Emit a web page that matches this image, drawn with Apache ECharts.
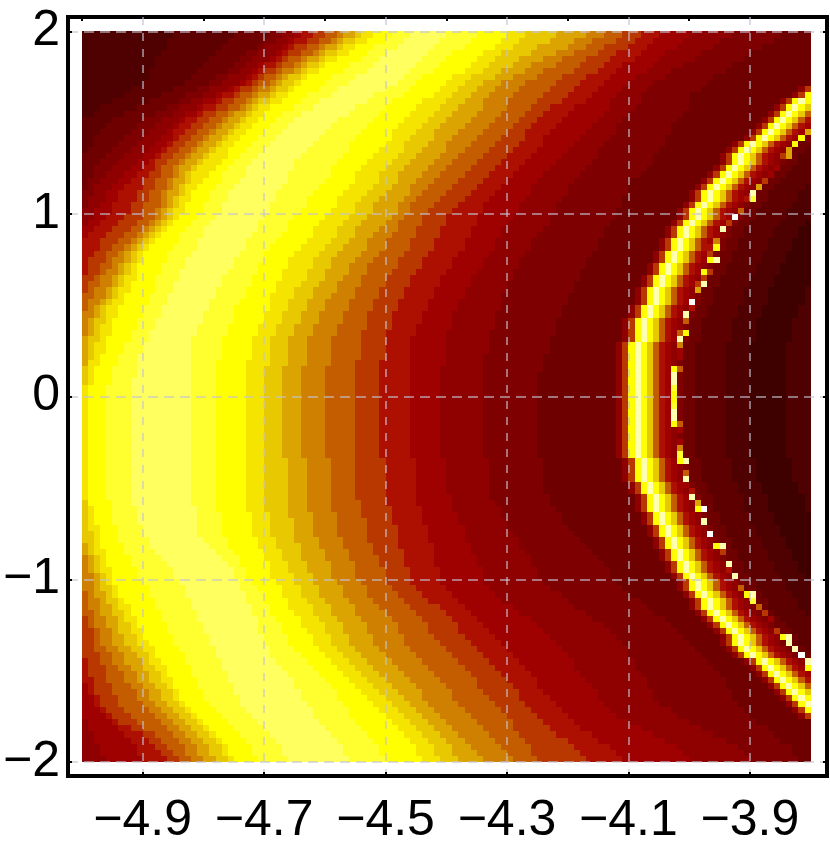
<!DOCTYPE html>
<html><head><meta charset="utf-8"><style>html,body{margin:0;padding:0;background:#fff}#c{width:830px;height:849px}</style>
<script src="https://cdn.jsdelivr.net/npm/echarts@6/dist/echarts.min.js"></script></head>
<body><div id="c"></div><script>
const xTicks=[-4.9,-4.7,-4.5,-4.3,-4.1,-3.9];
const xTicksTop=[-5,-4.8,-4.6,-4.4,-4.2,-4];
const yTicks=[-2,-1,0,1,2];
const palette=['#3f0000','#4f0000','#5f0000','#6f0000','#7f0000','#8f0000','#9f0000','#ad1000','#b83800','#c45c00','#d08000','#dca400','#e8c800','#f4e400','#ffff00','#ffff30','#ffff60','#ffffb0','#ffffff'];
// per row (top to bottom): first column of each colour level while rising, levels 2..16
const riseLevels=[2,3,4,5,6,7,8,9,10,11,12,13,14,15,16];
const rise=[
[15,25,31,33,35,36,38,40,42,43,45,46,48,51,54],[14,24,30,32,34,35,37,39,41,42,43,45,47,50,53],[14,23,29,30,33,34,35,37,39,40,42,43,45,48,52],[13,22,27,29,32,33,34,36,38,39,40,42,44,47,50],[12,21,26,28,31,32,33,34,36,37,39,40,42,46,49],
[12,20,25,27,29,30,32,33,35,36,37,39,40,44,48],[11,19,24,26,28,29,30,32,33,35,36,37,39,43,47],[11,18,22,24,27,28,29,30,32,33,34,36,37,41,45],[10,17,21,23,26,27,28,29,31,32,33,35,36,40,44],[8,15,19,21,24,25,26,28,29,31,32,34,35,39,42],
[7,13,17,20,22,23,25,26,28,29,31,32,34,37,41],[5,11,16,18,20,22,23,25,27,28,29,31,33,36,39],[3,9,14,16,19,20,22,24,26,27,28,29,31,35,38],[2,7,12,15,17,19,20,22,24,25,27,28,30,33,36],[0,5,10,13,16,17,19,21,23,24,26,27,29,32,35],
[0,4,9,12,15,16,18,20,22,23,25,26,28,31,34],[0,3,8,11,14,15,17,19,21,22,24,25,27,30,33],[0,2,7,10,13,15,16,18,20,21,23,24,26,29,32],[0,2,6,9,12,14,15,17,19,20,22,23,25,28,31],[0,1,5,8,11,13,14,16,18,19,21,22,24,27,30],
[0,0,4,7,10,12,13,15,17,18,20,21,24,26,29],[0,0,3,6,9,11,12,14,16,17,19,20,23,25,28],[0,0,2,5,8,10,12,13,15,16,18,19,22,24,27],[0,0,2,4,7,9,11,13,15,16,17,18,21,23,27],[0,0,1,3,6,8,10,12,14,15,17,18,20,23,26],
[0,0,1,2,5,7,10,12,14,15,16,17,19,22,25],[0,0,0,2,4,6,9,11,13,14,16,17,18,21,24],[0,0,0,1,4,6,9,11,13,14,15,16,18,21,24],[0,0,0,1,3,5,8,10,13,14,15,16,17,20,23],[0,0,0,0,2,5,8,10,12,13,14,15,17,20,23],
[0,0,0,0,2,4,7,10,12,13,14,15,16,19,22],[0,0,0,0,1,3,6,9,11,12,13,14,15,18,21],[0,0,0,0,0,2,5,8,10,11,12,13,14,17,20],[0,0,0,0,0,1,4,7,9,10,11,12,13,16,20],[0,0,0,0,0,0,3,6,8,9,10,11,12,16,19],
[0,0,0,0,0,0,3,5,7,8,9,10,11,15,19],[0,0,0,0,0,0,2,4,6,7,8,9,10,14,18],[0,0,0,0,0,0,1,4,5,7,8,9,10,14,17],[0,0,0,0,0,0,1,3,5,6,7,8,9,13,17],[0,0,0,0,0,0,1,3,4,6,7,8,9,13,16],
[0,0,0,0,0,0,0,2,3,5,6,7,9,12,16],[0,0,0,0,0,0,0,1,3,5,6,7,8,12,15],[0,0,0,0,0,0,0,1,2,4,5,6,8,12,15],[0,0,0,0,0,0,0,0,2,4,5,6,7,11,14],[0,0,0,0,0,0,0,0,1,3,4,5,7,11,14],
[0,0,0,0,0,0,0,0,1,2,3,4,6,10,13],[0,0,0,0,0,0,0,0,0,2,3,4,6,10,13],[0,0,0,0,0,0,0,0,0,1,2,4,5,9,12],[0,0,0,0,0,0,0,0,0,1,2,3,5,9,12],[0,0,0,0,0,0,0,0,0,1,2,3,5,8,11],
[0,0,0,0,0,0,0,0,0,0,1,3,4,8,11],[0,0,0,0,0,0,0,0,0,0,1,2,4,7,10],[0,0,0,0,0,0,0,0,0,0,1,2,4,7,10],[0,0,0,0,0,0,0,0,0,0,1,2,3,6,9],[0,0,0,0,0,0,0,0,0,0,1,1,3,6,9],
[0,0,0,0,0,0,0,0,0,0,0,1,2,5,9],[0,0,0,0,0,0,0,0,0,0,0,1,2,5,9],[0,0,0,0,0,0,0,0,0,0,0,1,2,5,8],[0,0,0,0,0,0,0,0,0,0,0,0,1,4,8],[0,0,0,0,0,0,0,0,0,0,0,0,1,4,8],
[0,0,0,0,0,0,0,0,0,0,0,0,1,4,8],[0,0,0,0,0,0,0,0,0,0,0,0,1,4,8],[0,0,0,0,0,0,0,0,0,0,0,0,1,4,8],[0,0,0,0,0,0,0,0,0,0,0,0,1,4,8],[0,0,0,0,0,0,0,0,0,0,0,0,1,4,8],
[0,0,0,0,0,0,0,0,0,0,0,0,1,4,8],[0,0,0,0,0,0,0,0,0,0,0,0,1,4,8],[0,0,0,0,0,0,0,0,0,0,0,0,1,4,8],[0,0,0,0,0,0,0,0,0,0,0,0,1,4,8],[0,0,0,0,0,0,0,0,0,0,0,0,1,4,8],
[0,0,0,0,0,0,0,0,0,0,0,0,1,4,8],[0,0,0,0,0,0,0,0,0,0,0,0,1,4,8],[0,0,0,0,0,0,0,0,0,0,0,0,1,4,8],[0,0,0,0,0,0,0,0,0,0,0,0,1,4,8],[0,0,0,0,0,0,0,0,0,0,0,0,1,4,8],
[0,0,0,0,0,0,0,0,0,0,0,0,1,4,8],[0,0,0,0,0,0,0,0,0,0,0,0,1,4,8],[0,0,0,0,0,0,0,0,0,0,0,1,1,5,8],[0,0,0,0,0,0,0,0,0,0,0,1,2,5,9],[0,0,0,0,0,0,0,0,0,0,0,1,2,5,9],
[0,0,0,0,0,0,0,0,0,0,0,1,2,5,9],[0,0,0,0,0,0,0,0,0,0,0,1,3,6,10],[0,0,0,0,0,0,0,0,0,0,0,2,3,6,10],[0,0,0,0,0,0,0,0,0,0,0,2,3,6,11],[0,0,0,0,0,0,0,0,0,0,1,2,3,7,11],
[0,0,0,0,0,0,0,0,0,0,1,2,4,7,12],[0,0,0,0,0,0,0,0,0,1,2,3,4,8,13],[0,0,0,0,0,0,0,0,0,1,2,3,4,8,14],[0,0,0,0,0,0,0,0,0,1,2,3,5,9,15],[0,0,0,0,0,0,0,0,0,2,3,4,5,9,15],
[0,0,0,0,0,0,0,0,0,2,3,4,5,10,16],[0,0,0,0,0,0,0,0,0,2,3,5,6,11,17],[0,0,0,0,0,0,0,0,1,2,4,5,6,11,17],[0,0,0,0,0,0,0,0,1,3,4,6,7,12,18],[0,0,0,0,0,0,0,0,1,3,5,6,8,12,18],
[0,0,0,0,0,0,0,0,2,3,5,7,8,13,19],[0,0,0,0,0,0,0,1,2,4,6,7,9,13,19],[0,0,0,0,0,0,0,1,2,4,6,8,9,14,20],[0,0,0,0,0,0,0,2,3,5,6,8,10,14,20],[0,0,0,0,0,0,0,2,3,5,7,9,10,15,21],
[0,0,0,0,0,0,0,2,3,5,7,9,11,15,21],[0,0,0,0,0,0,0,2,4,6,8,10,12,16,22],[0,0,0,0,0,0,0,3,5,7,9,11,12,17,22],[0,0,0,0,0,0,1,3,5,7,10,11,13,17,23],[0,0,0,0,0,0,1,4,6,8,10,12,14,18,23],
[0,0,0,0,0,0,1,4,7,9,11,13,14,18,24],[0,0,0,0,0,0,2,4,7,9,11,13,15,19,24],[0,0,0,0,0,1,2,5,8,10,12,14,15,19,25],[0,0,0,0,0,1,2,5,9,11,13,15,16,20,25],[0,0,0,0,0,2,3,6,9,11,13,15,16,20,26],
[0,0,0,0,0,2,3,6,10,12,14,16,17,21,26],[0,0,0,0,0,3,4,7,11,13,15,17,18,22,27],[0,0,0,0,0,4,5,8,12,14,16,18,19,23,28],[0,0,0,0,1,5,6,9,13,15,17,19,20,24,29],[0,0,0,0,1,6,8,10,14,16,18,20,21,25,30],
[0,0,0,0,2,7,10,12,15,17,19,21,22,26,31],[0,0,0,0,2,8,11,13,16,18,20,22,23,27,32],[0,0,0,0,3,9,12,14,17,19,21,23,24,28,33],[0,0,0,0,3,9,13,15,17,19,21,23,24,28,33],[0,0,0,0,4,10,14,16,18,20,22,24,25,29,34]
];
// per row: first column of each colour level while falling, levels 15..3
const fallLevels=[15,14,13,12,11,10,9,8,7,6,5,4,3];
const fall=[
[60,65,70,73,78,83,86,89,92,95,100,107,115],[59,64,69,72,77,81,84,88,91,94,99,105,114],[58,63,68,71,75,80,83,86,90,93,98,104,112],[57,61,66,69,74,78,81,85,88,92,96,102,110],[56,60,65,68,72,76,79,83,87,91,95,101,109],
[55,59,64,67,71,74,78,82,86,89,94,99,107],[54,58,63,66,69,73,76,81,85,88,93,97,106],[53,56,61,64,68,71,75,79,83,87,91,96,104],[52,55,60,63,66,69,73,78,82,86,90,94,103],[50,54,59,62,65,68,72,77,81,85,89,93,102],
[48,53,58,61,64,67,71,76,80,84,88,92,100],[47,51,56,60,63,66,70,75,79,83,87,92,100],[45,50,55,59,62,66,70,74,77,81,87,91,100],[44,49,54,58,61,65,69,73,76,80,86,90,99],[42,48,53,57,60,64,68,72,75,79,85,89,98],
[41,47,52,56,59,63,67,71,74,78,84,88,97],[40,46,51,55,58,62,66,70,73,77,83,88,97],[39,45,51,54,58,61,65,69,73,76,82,87,96],[38,44,50,53,57,60,64,68,72,76,81,86,96],[37,44,49,53,56,60,63,67,71,75,80,85,95],
[36,43,48,52,55,59,62,66,70,74,79,85,94],[35,42,47,51,54,58,61,65,69,73,78,84,94],[35,41,46,50,53,57,60,64,68,72,77,83,93],[34,41,45,49,52,56,59,63,67,71,76,82,92],[34,40,45,49,52,55,58,62,66,70,75,81,90],
[33,39,44,48,51,54,57,61,65,69,74,80,90],[32,38,43,47,50,54,56,60,64,68,74,80,90],[32,37,42,46,49,53,55,59,63,67,73,79,89],[31,37,42,45,48,52,54,58,62,66,72,78,89],[31,36,41,45,48,52,54,57,61,66,72,78,88],
[30,35,40,44,47,51,53,56,60,65,71,77,88],[29,34,39,43,46,50,52,56,60,65,70,77,87],[29,34,38,42,45,49,52,55,59,64,69,76,86],[28,33,38,42,45,48,51,55,59,64,69,75,86],[27,32,37,41,44,47,50,54,58,63,68,74,85],
[27,31,36,40,43,47,50,54,58,63,68,74,85],[26,30,35,39,42,46,49,53,57,62,67,73,84],[25,30,34,38,41,45,48,52,56,61,66,72,83],[25,29,34,38,41,44,47,52,56,61,66,72,83],[24,29,33,37,40,44,47,51,55,60,65,71,82],
[23,28,33,37,40,43,46,50,54,59,64,71,82],[23,28,32,36,39,42,46,50,54,59,64,70,81],[22,27,32,35,38,42,45,49,53,58,63,70,81],[22,27,31,35,38,41,45,49,53,58,63,69,80],[21,26,31,34,37,40,44,48,52,57,62,69,80],
[21,25,31,34,37,40,44,48,52,57,62,69,79],[20,25,30,33,36,39,43,47,51,56,61,68,79],[20,25,30,33,36,39,43,47,51,56,61,68,78],[19,24,29,32,35,38,42,47,51,55,61,68,78],[19,24,29,32,35,38,42,46,50,55,60,67,78],
[18,23,28,31,34,37,41,46,50,54,60,67,77],[18,23,28,31,34,37,41,46,50,54,60,67,77],[18,23,28,31,34,37,41,46,50,54,60,67,77],[18,23,28,31,34,37,41,46,50,54,60,66,76],[18,22,27,31,34,37,41,45,49,54,60,66,76],
[18,22,27,30,33,36,40,45,49,54,59,66,76],[18,22,27,30,33,36,40,45,49,54,59,66,75],[18,22,27,30,33,36,40,45,49,54,59,66,75],[18,22,27,30,33,36,40,45,49,54,59,66,75],[18,22,27,30,33,36,40,45,49,54,59,66,75],
[18,22,27,30,33,36,40,45,49,54,59,66,75],[18,22,27,30,33,36,40,45,49,54,59,66,75],[18,22,27,30,33,36,40,45,49,54,59,66,75],[18,22,27,30,33,36,40,45,49,54,59,66,75],[18,22,27,30,33,36,40,45,49,54,59,66,75],
[18,22,27,30,33,36,40,45,49,54,59,66,75],[18,22,27,30,33,36,40,45,49,54,59,66,75],[18,22,27,30,33,36,40,45,49,54,59,66,75],[18,22,27,30,33,36,40,45,49,54,59,66,75],[18,22,27,30,33,36,40,45,49,54,59,66,75],
[18,22,27,30,34,37,41,45,50,55,60,67,76],[18,22,27,30,34,37,41,45,50,55,60,67,76],[18,22,27,30,34,37,41,45,50,55,60,67,76],[18,22,27,30,34,37,41,45,50,55,60,67,76],[18,22,27,30,34,37,41,45,50,55,60,67,76],
[18,22,27,30,34,37,41,45,50,55,60,67,76],[18,22,27,30,34,37,41,45,50,55,61,67,77],[18,22,27,30,34,37,41,46,50,55,61,68,77],[19,22,27,30,34,37,41,46,51,56,61,69,78],[19,23,28,31,34,38,42,46,51,56,62,69,79],
[19,23,28,31,35,38,42,47,51,56,62,70,79],[19,23,28,31,35,38,42,47,52,57,63,70,80],[19,23,28,31,35,38,42,47,52,57,63,71,81],[20,24,29,32,35,39,43,47,52,57,63,72,82],[21,24,29,32,36,39,43,48,52,58,64,72,83],
[22,25,30,33,36,40,44,48,53,58,64,73,84],[23,26,30,33,36,40,44,49,53,58,65,74,85],[24,26,31,34,37,41,45,49,53,58,65,74,86],[25,27,31,34,37,41,45,50,54,59,66,75,87],[25,27,31,35,38,41,45,50,54,59,66,75,87],
[26,28,32,35,38,42,46,50,54,59,66,76,88],[26,29,33,36,39,43,47,51,55,60,67,77,89],[27,30,33,36,39,43,47,52,56,61,68,79,90],[27,30,34,37,40,44,48,53,57,62,69,80,92],[28,31,34,38,41,45,49,54,59,63,71,81,93],
[28,31,35,38,41,45,50,55,60,64,72,83,94],[29,32,36,39,42,46,51,56,61,65,74,84,96],[29,33,36,40,43,47,52,57,62,66,75,86,97],[29,33,37,40,43,47,52,57,62,67,76,87,98],[30,34,38,41,44,48,53,58,63,68,77,88,99],
[30,34,38,41,44,48,53,59,64,69,78,89,100],[31,35,39,42,45,49,54,60,65,70,79,90,101],[31,36,40,43,46,50,55,61,66,71,80,90,102],[32,37,41,44,47,51,56,62,67,72,81,91,103],[33,38,42,45,48,52,57,63,68,73,81,91,104],
[34,39,43,46,49,53,58,64,69,74,82,92,105],[35,40,44,47,50,54,59,65,70,75,83,93,106],[35,41,45,48,51,55,60,65,71,75,84,93,106],[36,42,46,49,52,56,61,66,72,76,85,94,107],[36,42,47,50,53,56,61,67,72,77,85,94,107],
[37,43,48,51,54,57,62,68,73,78,86,95,108],[38,44,49,52,55,58,63,69,74,79,87,97,109],[38,44,50,53,56,59,64,70,75,80,88,98,110],[39,45,51,54,57,60,65,71,76,81,90,100,111],[40,46,52,55,58,61,66,71,77,82,92,102,113],
[41,47,53,56,59,62,67,72,78,84,94,104,114],[42,48,54,57,60,63,68,73,80,85,96,106,115],[43,49,55,58,61,64,69,74,81,87,98,108,117],[43,49,55,58,61,65,70,74,82,88,99,109,117],[44,50,56,59,62,66,71,75,83,89,100,110,118]
];
// per row: column of the bright ring's crest (-1 where it is off the plot)
const ringCol=[
-1,-1,-1,-1,-1,-1,-1,-1,-1,121,120,118,117,116,115,114,113,112,110,109,
108,108,107,106,105,104,103,103,102,101,101,100,99,99,98,98,97,97,96,96,
95,95,94,94,94,93,93,92,92,92,92,91,91,91,91,91,91,91,91,91,
91,91,91,91,91,91,91,91,91,91,92,92,92,92,93,93,94,94,94,95,
95,96,96,97,97,98,98,99,99,100,101,101,102,103,103,104,105,106,107,108,
108,109,110,112,113,114,115,116,117,118,119,120,121,-1,-1,-1,-1,-1,-1,-1
];
// colour levels across the ring, starting three columns left of the crest
const ringProfile=[5,8,14,17,14,12,9,7,6,5,4,3,3,2,2,2,2,2,1,1,1,1,0,0,0,0,0,0,1,1,1,1,1,1];
// isolated bright cells of the thin inner arc: [column,row,level]
const thinSpots=[[119,16,11],[118,17,14],[117,18,14],[116,19,11],[116,20,11],[115,20,8],[114,22,6],[113,23,6],[112,24,8],[111,25,11],[110,26,17],[110,27,15],[109,27,7],[108,29,9],[107,30,18],[106,31,8],[105,32,17],[104,34,10],[104,35,14],[103,35,7],[103,36,8],[103,37,14],[104,37,17],[103,39,8],[102,39,14],[102,40,8],[101,41,8],[102,41,17],[101,42,11],[100,44,18],[100,45,7],[99,46,17],[99,47,9],[98,49,9],[99,49,14],[98,50,17],[98,51,10],[98,52,6],[98,53,6],[97,55,14],[98,55,9],[97,56,17],[97,57,17],[97,58,15],[97,59,14],[97,60,14],[97,61,15],[97,62,17],[97,63,17],[97,64,14],[98,64,9],[98,65,6],[98,67,6],[98,68,10],[98,69,15],[98,70,14],[99,70,17],[99,72,9],[99,73,17],[99,74,6],[100,75,7],[100,76,17],[101,77,11],[101,78,14],[102,78,18],[102,80,17],[103,82,18],[104,84,14],[105,84,17],[105,85,8],[106,87,17],[106,88,7],[107,89,17],[108,91,9],[109,92,14],[110,92,17],[110,93,15],[111,94,9],[112,95,8],[113,96,6],[114,98,8],[115,99,14],[116,99,17],[116,100,17],[117,101,17],[118,102,18],[119,103,17],[119,104,14]];
const grid=[];
for(let r=0;r<120;r++){
  const row=new Array(120).fill(1);
  rise[r].forEach((c,i)=>{for(let k=c;k<120;k++)row[k]=riseLevels[i];});
  fall[r].forEach((c,i)=>{for(let k=c;k<120;k++)row[k]=fallLevels[i];});
  if(ringCol[r]>=0){
    const s=ringCol[r]-3;
    for(let k=s;k<120;k++){row[k]=ringProfile[Math.min(k-s,ringProfile.length-1)];}
  }
  grid.push(row);
}
thinSpots.forEach(([c,r,l])=>{grid[r][c]=l;});
const cells=[];
grid.forEach((row,r)=>row.forEach((l,c)=>cells.push([-5+c*0.01,2-r/30,l])));
const fmt=v=>String(v).replace('-','\u2212');
const chart=echarts.init(document.getElementById('c'),null,{renderer:'canvas'});
const labelFont={color:'#000',fontSize:50,fontFamily:'"Liberation Sans",Arial,sans-serif'};
const dash=(d)=>({show:true,lineStyle:{color:'rgba(195,195,210,0.8)',width:1.5,type:d}});
const noLine={show:false,onZero:false};
chart.setOption({
  animation:false,
  grid:{left:68,top:17,width:759,height:759,show:true,borderColor:'#000',borderWidth:4,backgroundColor:'#fff'},
  xAxis:[
   {type:'value',min:-5.023,max:-3.773,position:'bottom',z:5,axisLine:noLine,
    axisTick:{show:true,inside:true,length:4,lineStyle:{color:'#000',width:2},customValues:xTicks},
    axisLabel:{...labelFont,margin:20,customValues:xTicks,formatter:v=>fmt(v.toFixed(1))},
    splitLine:dash([8,8])},
   {type:'value',min:-5.023,max:-3.773,position:'top',z:5,axisLine:noLine,
    axisTick:{show:true,inside:true,length:4,lineStyle:{color:'#000',width:2},customValues:xTicksTop},
    axisLabel:{show:false},splitLine:{show:false}}
  ],
  yAxis:[
   {type:'value',min:-2.077,max:2.079,position:'left',z:5,axisLine:noLine,
    axisTick:{show:true,inside:true,length:4,lineStyle:{color:'#000',width:2},customValues:yTicks},
    axisLabel:{...labelFont,margin:8,customValues:yTicks,formatter:v=>fmt(v)},
    splitLine:dash([10,6])},
   {type:'value',min:-2.077,max:2.079,position:'right',z:5,axisLine:noLine,
    axisTick:{show:true,inside:true,length:4,lineStyle:{color:'#000',width:2},customValues:yTicks},
    axisLabel:{show:false},splitLine:{show:false}}
  ],
  series:[{type:'custom',xAxisIndex:0,yAxisIndex:0,silent:true,progressive:0,clip:false,
    encode:{x:0,y:1},data:cells,
    renderItem:(p,api)=>{
      const x=api.value(0),y=api.value(1),a=api.coord([x,y]),b=api.coord([x+0.01,y-1/30]);
      const x0=Math.round(a[0]),y0=Math.round(a[1]);
      return {type:'rect',shape:{x:x0,y:y0,width:Math.round(b[0])-x0,height:Math.round(b[1])-y0},
        style:{fill:palette[api.value(2)]}};
    }}]
});
</script></body></html>
